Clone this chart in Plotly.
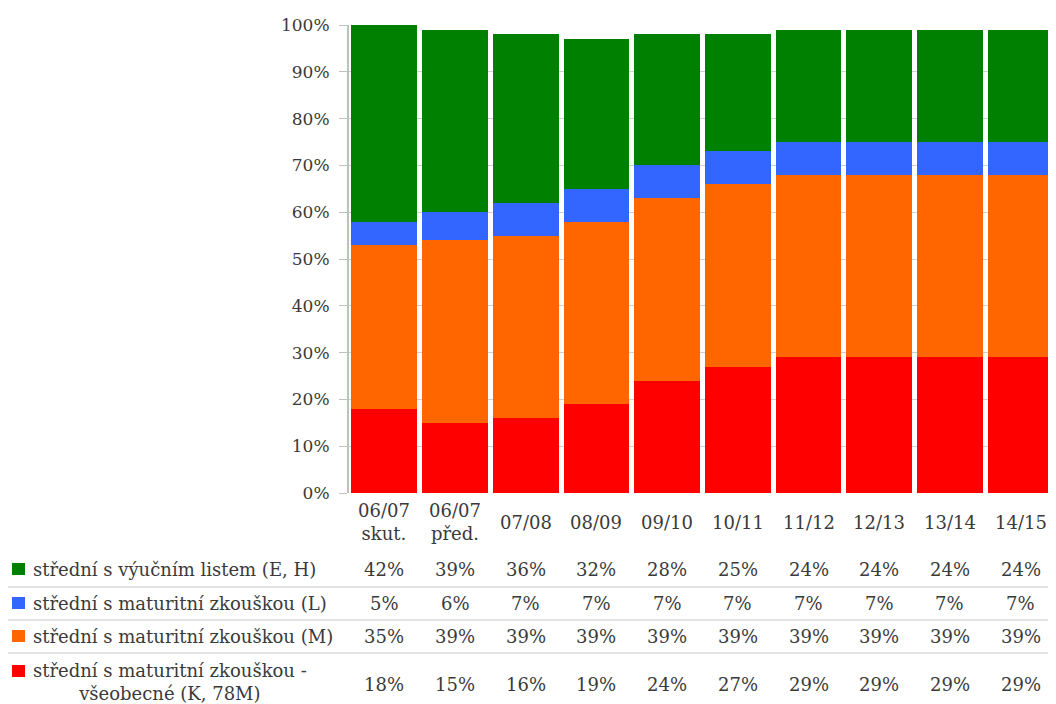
import plotly.graph_objects as go

# data
kategorie = ["06/07<br>skut.", "06/07<br>před.", "07/08", "08/09", "09/10",
             "10/11", "11/12", "12/13", "13/14", "14/15"]
serie = ["střední s výučním listem (E, H)",
         "střední s maturitní zkouškou (L)",
         "střední s maturitní zkouškou (M)",
         "střední s maturitní zkouškou -<br>všeobecné (K, 78M)"]
vyucni = [42, 39, 36, 32, 28, 25, 24, 24, 24, 24]
maturita_l = [5, 6, 7, 7, 7, 7, 7, 7, 7, 7]
maturita_m = [35, 39, 39, 39, 39, 39, 39, 39, 39, 39]
vseobecne = [18, 15, 16, 19, 24, 27, 29, 29, 29, 29]
barvy = ["#008000", "#3366ff", "#ff6600", "#ff0000"]

OFF = 8  # page body margin
W, H = 1056 - OFF, 704 - OFF
TOP, BOTTOM, LEFT = 25, 493, 349  # screen pixels of plot area
FONT = "DejaVu Serif"
TXT = "#3a3a3a"
FS = 18


def py(y):
    # screen pixel y -> paper y
    return (BOTTOM - y) / (BOTTOM - TOP)


def px(x):
    return (x - LEFT) / (1056 - LEFT)


hodnoty = [vyucni, maturita_l, maturita_m, vseobecne]
x_idx = list(range(len(kategorie)))

fig = go.Figure()
# stack from bottom: red, orange, blue, green
for i in [3, 2, 1, 0]:
    fig.add_trace(go.Bar(
        x=x_idx,
        y=[v / 100 for v in hodnoty[i]],
        name=serie[i],
        marker=dict(color=barvy[i], line=dict(width=0)),
    ))

annotations = []
shapes = []

# category labels under bars
for j, k in enumerate(kategorie):
    annotations.append(dict(x=j, y=py(522), xref="x", yref="paper", text=k,
                            showarrow=False, yanchor="middle",
                            font=dict(size=FS, color=TXT, family=FONT)))

# data table
radky_y = [569, 603, 636, 682]
for i, radek in enumerate(hodnoty):
    yy = py(radky_y[i])
    annotations.append(dict(x=px(31), y=yy, xref="paper", yref="paper",
                            text=serie[i], showarrow=False, xanchor="left",
                            yanchor="middle", align="center",
                            font=dict(size=FS, color=TXT, family=FONT)))
    ysq = radky_y[i] if i < 3 else 671
    shapes.append(dict(type="rect", xref="paper", yref="paper",
                       x0=px(12), x1=px(25), y0=py(ysq - 6), y1=py(ysq + 6),
                       fillcolor=barvy[i], line=dict(width=0)))
    for j, v in enumerate(radek):
        annotations.append(dict(x=j, y=py(684) if i == 3 else yy,
                                xref="x", yref="paper",
                                text=f"{v}%", showarrow=False, yanchor="middle",
                                font=dict(size=FS, color=TXT, family=FONT)))

for yl in [587, 620, 653]:
    shapes.append(dict(type="line", xref="paper", yref="paper",
                       x0=px(5), x1=1.0, y0=py(yl), y1=py(yl),
                       line=dict(color="#c8c8c8", width=1)))

fig.update_layout(
    barmode="stack",
    bargap=0.07,
    width=W,
    height=H,
    margin=dict(l=LEFT - OFF, r=0, t=TOP - OFF, b=H - (BOTTOM - OFF), pad=0),
    paper_bgcolor="white",
    plot_bgcolor="white",
    showlegend=False,
    font=dict(family=FONT, color=TXT, size=FS),
    xaxis=dict(range=[-0.5, len(kategorie) - 0.5], showticklabels=False,
               showgrid=False, zeroline=False, showline=False, ticks=""),
    yaxis=dict(range=[0, 1], dtick=0.1, tickformat=".0%",
               showgrid=True, gridcolor="#d0d0d0", gridwidth=1,
               zeroline=False, showline=True, linecolor="#c0c0c0",
               linewidth=2, ticks="outside", ticklen=8, tickcolor="#c0c0c0",
               ticklabelstandoff=6,
               tickfont=dict(size=17, color=TXT, family=FONT)),
    annotations=annotations,
    shapes=shapes,
)

fig.write_html("out.html")
